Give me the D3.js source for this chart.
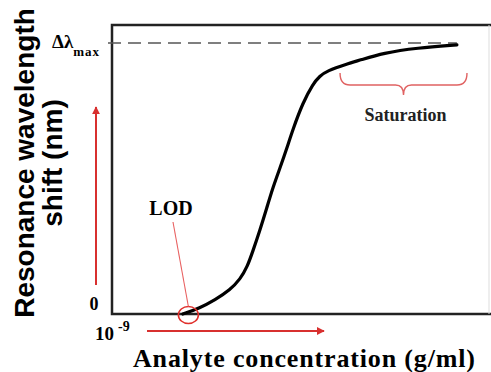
<!DOCTYPE html>
<html>
<head>
<meta charset="utf-8">
<script src="https://cdn.jsdelivr.net/npm/d3@7/dist/d3.min.js"></script>
<style>
	body { margin: 0; background: #fff; }
	svg { display: block; }
</style>
</head>
<body>
<svg id="chart" width="491" height="372"></svg>
<script>
// log10 of analyte concentration (g/ml) along the curve
const logConc = [-7.88, -7.61, -7.37, -7.13, -6.97, -6.86, -6.77, -6.66, -6.55, -6.45, -6.34, -6.23, -6.14, -5.98, -5.82, -5.71, -5.60, -5.28, -5.07, -4.71, -4.17, -3.54];
// resonance wavelength shift as a fraction of the maximum shift
const shift = [0, 0.022, 0.052, 0.089, 0.129, 0.173, 0.232, 0.308, 0.391, 0.469, 0.539, 0.613, 0.679, 0.779, 0.849, 0.878, 0.897, 0.923, 0.937, 0.963, 0.982, 0.993];
const xTicks = [-9];
const yTicks = [0];
const lodPoint = [-7.87, 0];
const saturationRange = [-5.39, -3.38];

const Width = 491;
const Height = 372;
const margin = {left: 112, top: 25, bottom: 58};
const red = "#d8302f";

const svg = d3.select("#chart");

const x = d3.scaleLinear().domain([-9, -3]).range([margin.left, Width]);
const y = d3.scaleLinear().domain([0, 1]).range([Height - margin.bottom, 43]);
const yTop = margin.top;
const yBottom = y(0);

// frame: top, left, bottom and a faint right edge
const frame = svg.append("g").attr("stroke", "#222").attr("stroke-width", 2.5).attr("fill", "none");
frame.append("path").attr("d", `M${Width},${yTop}H${x(-9)}V${yBottom}H${Width}`);
svg.append("line").attr("x1", 489).attr("x2", 489).attr("y1", yTop).attr("y2", yBottom)
	.attr("stroke", "#ddd").attr("stroke-width", 1);

// dashed max line
svg.append("line")
	.attr("x1", x(-9) - 4).attr("x2", x(-3.54))
	.attr("y1", y(1)).attr("y2", y(1))
	.attr("stroke", "#555").attr("stroke-width", 1.5).attr("stroke-dasharray", "13,7");

// response curve
const data = logConc.map((c, i) => ({c: c, v: shift[i]}));
const line = d3.line().curve(d3.curveBasis).x(d => x(d.c)).y(d => y(d.v));
svg.append("path").datum(data)
	.attr("d", line)
	.attr("fill", "none").attr("stroke", "#000").attr("stroke-width", 3.2)
	.attr("stroke-linecap", "round");

// tick labels
const serif = "'Liberation Serif', 'Times New Roman', serif";
svg.selectAll("text.ytick").data(yTicks).enter().append("text")
	.attr("class", "ytick")
	.attr("x", 94).attr("y", d => y(d) - 4)
	.attr("text-anchor", "middle")
	.attr("font-family", serif).attr("font-weight", "bold").attr("font-size", 18)
	.text(d => d);
const xt = svg.selectAll("text.xtick").data(xTicks).enter().append("text")
	.attr("class", "xtick")
	.attr("x", d => x(d) - 17).attr("y", yBottom + 26)
	.attr("font-family", serif).attr("font-weight", "bold").attr("font-size", 19);
xt.append("tspan").text("10");
xt.append("tspan").attr("dx", 4).attr("dy", -9).attr("font-size", 14).text(d => d);

// Δλmax label
const dl = svg.append("text").attr("x", 52).attr("y", y(1) + 5)
	.attr("font-family", serif).attr("font-weight", "bold").attr("font-size", 19);
dl.append("tspan").text("Δλ");
dl.append("tspan").attr("dy", 8).attr("font-size", 13).attr("letter-spacing", 1).text("max");

// axis titles
const sans = "'Liberation Sans', Arial, sans-serif";
const ytitle = svg.append("text")
	.attr("transform", "translate(34,163) rotate(-90)")
	.attr("text-anchor", "middle")
	.attr("font-family", sans).attr("font-weight", "bold").attr("font-size", 28);
ytitle.append("tspan").attr("x", 0).attr("y", 0).text("Resonance wavelength");
ytitle.append("tspan").attr("x", 0).attr("y", 28).text("shift (nm)");

svg.append("text")
	.attr("x", 133).attr("y", 367)
	.attr("textLength", 342).attr("lengthAdjust", "spacing")
	.attr("font-family", serif).attr("font-weight", "bold").attr("font-size", 26)
	.text("Analyte concentration  (g/ml)");

// red direction arrows
svg.append("defs").append("marker")
	.attr("id", "head").attr("viewBox", "0 0 10 10")
	.attr("refX", 9).attr("refY", 5)
	.attr("markerWidth", 4).attr("markerHeight", 4)
	.attr("orient", "auto")
	.append("path").attr("d", "M0,0L10,5L0,10z").attr("fill", red);
svg.append("line")
	.attr("x1", 96).attr("x2", 96).attr("y1", 285).attr("y2", 107)
	.attr("stroke", red).attr("stroke-width", 2).attr("marker-end", "url(#head)");
svg.append("line")
	.attr("x1", 147).attr("x2", 324).attr("y1", yBottom + 17).attr("y2", yBottom + 17)
	.attr("stroke", red).attr("stroke-width", 2).attr("marker-end", "url(#head)");

// LOD annotation
const lx = x(lodPoint[0]) + 5, ly = y(lodPoint[1]) + 1;
svg.append("ellipse")
	.attr("cx", lx).attr("cy", ly).attr("rx", 10).attr("ry", 8.5)
	.attr("fill", "none").attr("stroke", "#e0302c").attr("stroke-width", 1.6);
svg.append("line")
	.attr("x1", 173).attr("y1", 222).attr("x2", lx).attr("y2", ly - 8.5)
	.attr("stroke", "#e86060").attr("stroke-width", 1.1);
svg.append("text")
	.attr("x", 171).attr("y", 215).attr("text-anchor", "middle")
	.attr("font-family", serif).attr("font-weight", "bold").attr("font-size", 20)
	.text("LOD");

// saturation brace
const bx0 = x(saturationRange[0]), bx1 = x(saturationRange[1]);
const bm = (bx0 + bx1) / 2;
const by = 73, bh = 12, r = 10;
const brace = d3.path();
brace.moveTo(bx0, by);
brace.quadraticCurveTo(bx0, by + bh, bx0 + r, by + bh);
brace.lineTo(bm - r + 2, by + bh);
brace.quadraticCurveTo(bm, by + bh, bm, by + bh + 10);
brace.quadraticCurveTo(bm, by + bh, bm + r - 2, by + bh);
brace.lineTo(bx1 - r, by + bh);
brace.quadraticCurveTo(bx1, by + bh, bx1, by);
svg.append("path").attr("d", brace.toString())
	.attr("fill", "none").attr("stroke", "#e06262").attr("stroke-width", 1.4);
svg.append("text")
	.attr("x", bm + 2).attr("y", 121).attr("text-anchor", "middle")
	.attr("font-family", serif).attr("font-weight", "bold").attr("font-size", 18)
	.attr("fill", "#222")
	.text("Saturation");
</script>
</body>
</html>
